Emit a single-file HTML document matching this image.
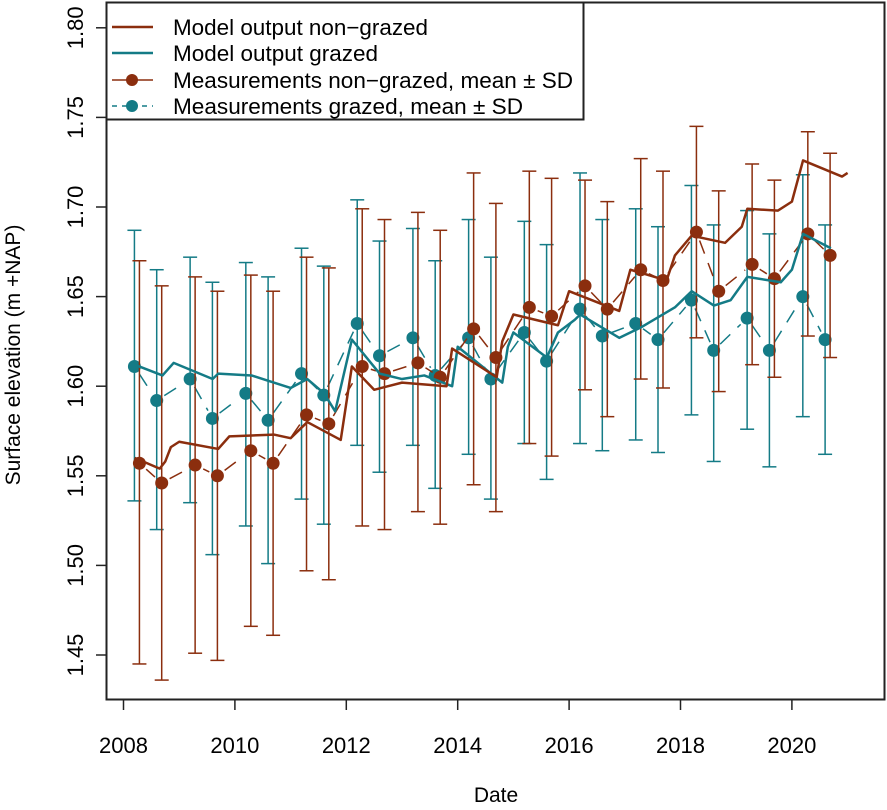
<!DOCTYPE html>
<html><head><meta charset="utf-8"><style>
html,body{margin:0;padding:0;background:#fff;}
svg{display:block;font-family:"Liberation Sans",Arial,sans-serif;}
</style></head><body>
<svg id="chart" width="887" height="810" viewBox="0 0 887 810" xmlns="http://www.w3.org/2000/svg">
<rect x="106.5" y="2.5" width="778" height="697" fill="none" stroke="#222" stroke-width="2"/>
<g id="yaxis"></g>
<g id="xaxis"></g>
<g id="marks"></g>
<text transform="translate(20,355) rotate(-90)" text-anchor="middle" font-size="21" fill="#000">Surface elevation (m +NAP)</text>
<text x="496" y="802" text-anchor="middle" font-size="21" fill="#000">Date</text>
<g>
<rect x="106.5" y="2.5" width="477" height="117" fill="#fff" stroke="#222" stroke-width="2"/>
<line x1="112" y1="27" x2="153" y2="27" stroke="#8B2E0E" stroke-width="2.5"/>
<text x="173" y="35" font-size="22" textLength="255" lengthAdjust="spacingAndGlyphs">Model output non−grazed</text>
<line x1="112" y1="53" x2="153" y2="53" stroke="#147B86" stroke-width="2.5"/>
<text x="173" y="61" font-size="22" textLength="205" lengthAdjust="spacingAndGlyphs">Model output grazed</text>
<line x1="112" y1="80" x2="153" y2="80" stroke="#8B2E0E" stroke-width="1.5"/>
<circle cx="132" cy="80" r="6" fill="#8B2E0E"/>
<text x="173" y="88" font-size="22" textLength="400" lengthAdjust="spacingAndGlyphs">Measurements non−grazed, mean ± SD</text>
<line x1="112" y1="106" x2="153" y2="106" stroke="#147B86" stroke-width="1.5" stroke-dasharray="5,5"/>
<circle cx="132" cy="106" r="6" fill="#147B86"/>
<text x="173" y="114" font-size="22" textLength="350" lengthAdjust="spacingAndGlyphs">Measurements grazed, mean ± SD</text>
</g>
</svg>
<script>
const yTicks=[1.45,1.50,1.55,1.60,1.65,1.70,1.75,1.80];
const xTicks=[2008,2010,2012,2014,2016,2018,2020];
const measDates=[2008.25,2008.65,2009.25,2009.65,2010.25,2010.65,2011.25,2011.65,2012.25,2012.65,2013.25,2013.65,2014.25,2014.65,2015.25,2015.65,2016.25,2016.65,2017.25,2017.65,2018.25,2018.65,2019.25,2019.65,2020.25,2020.65];
const ngMean=[1.557,1.546,1.556,1.550,1.564,1.557,1.584,1.579,1.611,1.607,1.613,1.605,1.632,1.616,1.644,1.639,1.656,1.643,1.665,1.659,1.686,1.653,1.668,1.660,1.685,1.673];
const ngUpper=[1.670,1.656,1.661,1.653,1.662,1.653,1.672,1.666,1.699,1.693,1.697,1.687,1.719,1.702,1.720,1.716,1.715,1.703,1.727,1.720,1.745,1.709,1.724,1.715,1.742,1.730];
const ngLower=[1.445,1.436,1.451,1.447,1.466,1.461,1.497,1.492,1.522,1.520,1.530,1.523,1.545,1.530,1.568,1.561,1.598,1.583,1.604,1.599,1.627,1.597,1.612,1.605,1.628,1.616];
const gMean=[1.611,1.592,1.604,1.582,1.596,1.581,1.607,1.595,1.635,1.617,1.627,1.606,1.627,1.604,1.630,1.614,1.643,1.628,1.635,1.626,1.648,1.620,1.638,1.620,1.650,1.626];
const gUpper=[1.687,1.665,1.672,1.658,1.669,1.661,1.677,1.667,1.704,1.681,1.688,1.670,1.693,1.672,1.692,1.679,1.719,1.693,1.699,1.689,1.712,1.690,1.698,1.685,1.718,1.690];
const gLower=[1.536,1.520,1.535,1.506,1.522,1.501,1.537,1.523,1.567,1.552,1.567,1.543,1.562,1.537,1.568,1.548,1.568,1.564,1.570,1.563,1.584,1.558,1.576,1.555,1.583,1.562];
const ngModelDates=[2008.2,2008.65,2008.75,2008.85,2009.0,2009.7,2009.9,2010.7,2011.0,2011.3,2011.9,2012.1,2012.5,2013.0,2013.8,2013.9,2014.7,2014.8,2015.0,2015.8,2016.0,2016.9,2017.1,2017.75,2017.9,2018.2,2018.8,2019.1,2019.2,2019.75,2020.0,2020.2,2020.9,2021.0];
const ngModel=[1.560,1.554,1.558,1.566,1.569,1.565,1.572,1.573,1.571,1.580,1.570,1.611,1.598,1.602,1.600,1.621,1.605,1.625,1.640,1.634,1.653,1.642,1.665,1.659,1.673,1.684,1.680,1.689,1.699,1.698,1.703,1.726,1.717,1.719];
const gModelDates=[2008.2,2008.7,2008.9,2009.6,2009.7,2010.3,2011.0,2011.3,2011.6,2011.8,2012.1,2012.6,2013.0,2013.4,2013.9,2014.0,2014.8,2014.9,2015.0,2015.6,2015.8,2016.1,2016.2,2016.9,2017.3,2017.9,2018.2,2018.6,2018.9,2019.2,2019.8,2020.0,2020.2,2020.7];
const gModel=[1.612,1.606,1.613,1.604,1.607,1.606,1.599,1.604,1.596,1.586,1.626,1.607,1.604,1.606,1.600,1.622,1.602,1.622,1.630,1.616,1.630,1.637,1.640,1.627,1.633,1.644,1.653,1.645,1.648,1.661,1.658,1.665,1.685,1.677];

const NS='http://www.w3.org/2000/svg';
const X=d=>123.5+(d-2008)*55.7;
const Y=v=>655-(v-1.45)/0.05*89.6;
const BROWN='#8B2E0E', TEAL='#147B86';
function mk(tag,attrs,parent){const e=document.createElementNS(NS,tag);for(const k in attrs)e.setAttribute(k,attrs[k]);parent.appendChild(e);return e;}
const yax=document.getElementById('yaxis'), xax=document.getElementById('xaxis'), marks=document.getElementById('marks');
yTicks.forEach(t=>{
  const l=mk('line',{x1:96,x2:106,y1:Y(t),y2:Y(t),stroke:'#222','stroke-width':1.5},yax);
  
  
  const tx=mk('text',{transform:`translate(83,${Y(t)}) rotate(-90)`,'text-anchor':'middle','font-size':22},yax);
  tx.textContent=t.toFixed(2);
  
  
});
xTicks.forEach(t=>{
  const l=mk('line',{x1:X(t),x2:X(t),y1:700,y2:710,stroke:'#222','stroke-width':1.5},xax);
  
  
  const tx=mk('text',{x:X(t),y:753,'text-anchor':'middle','font-size':22},xax);
  tx.textContent=t;
  
  
});
function series(dates,mean,up,lo,col,off,dash,name){
  const g=mk('g',{},marks);
  
  
  dates.forEach((d,i)=>{
    const x=X(d)+off;
    mk('line',{x1:x,x2:x,y1:Y(up[i]),y2:Y(lo[i]),stroke:col,'stroke-width':1.5},g);
    mk('line',{x1:x-7,x2:x+7,y1:Y(up[i]),y2:Y(up[i]),stroke:col,'stroke-width':1.5},g);
    mk('line',{x1:x-7,x2:x+7,y1:Y(lo[i]),y2:Y(lo[i]),stroke:col,'stroke-width':1.5},g);
  });
  for(let i=0;i<dates.length-1;i++){
    const x1=X(dates[i])+off,y1=Y(mean[i]),x2=X(dates[i+1])+off,y2=Y(mean[i+1]);
    const dx=x2-x1,dy=y2-y1,L=Math.hypot(dx,dy),g0=9/L;
    if(L>20) mk('line',{x1:x1+dx*g0,y1:y1+dy*g0,x2:x2-dx*g0,y2:y2-dy*g0,stroke:col,'stroke-width':1.5,'stroke-dasharray':dash},g);
  }
  dates.forEach((d,i)=>{
    const c=mk('circle',{cx:X(d)+off,cy:Y(mean[i]),r:6.5,fill:col},g);
    
    
  });
}
function model(dates,vals,col,name){
  const p=mk('polyline',{points:dates.map((d,i)=>X(d)+','+Y(vals[i])).join(' '),fill:'none',stroke:col,'stroke-width':2.5,'stroke-linejoin':'round'},marks);
  
  
}
series(measDates,gMean,gUpper,gLower,TEAL,-3,'14,10','measurements-grazed');
series(measDates,ngMean,ngUpper,ngLower,BROWN,2,'14,10','measurements-nongrazed');
model(gModelDates,gModel,TEAL,'model-grazed-line');
model(ngModelDates,ngModel,BROWN,'model-nongrazed-line');
</script>
</body></html>
